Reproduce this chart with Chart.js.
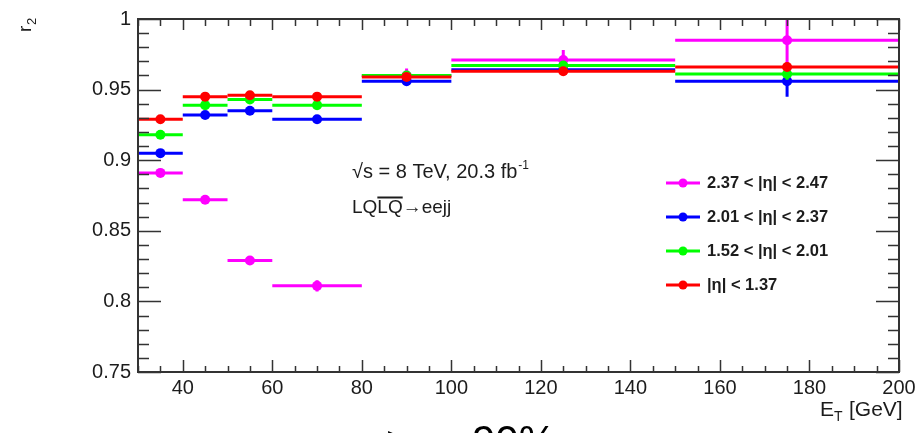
<!DOCTYPE html>
<html>
<head>
  <title>r2 vs ET</title>
  <script src="https://cdn.jsdelivr.net/npm/chart.js"></script>
  <style>
    body { margin: 0; background: #fff; }
  </style>
</head>
<body>
  <canvas id="r2Chart" width="921" height="433"></canvas>

  <script>
    // bins in E_T [GeV]
    const binCenter = [35, 45, 55, 70, 90, 125, 175];
    const binLow = [30, 40, 50, 60, 80, 100, 150];
    const binHigh = [40, 50, 60, 80, 100, 150, 200];

    // r2 per |eta| region, with errors
    const labels = ['2.37 < |η| < 2.47', '2.01 < |η| < 2.37', '1.52 < |η| < 2.01', '|η| < 1.37'];
    const colors = ['#ff00ff', '#0000ff', '#00ff00', '#ff0000'];
    const r2Eta1 = [0.891, 0.872, 0.829, 0.811, 0.960, 0.971, 0.985];
    const err1 = [0.002, 0.002, 0.002, 0.004, 0.005, 0.007, 0.022];
    const r2Eta2 = [0.905, 0.932, 0.935, 0.929, 0.956, 0.964, 0.956];
    const err2 = [0.002, 0.002, 0.002, 0.002, 0.002, 0.002, 0.011];
    const r2Eta3 = [0.918, 0.939, 0.943, 0.939, 0.960, 0.967, 0.961];
    const err3 = [0.002, 0.002, 0.002, 0.002, 0.002, 0.002, 0.004];
    const r2Eta4 = [0.929, 0.945, 0.946, 0.945, 0.959, 0.963, 0.966];
    const err4 = [0.002, 0.002, 0.002, 0.002, 0.002, 0.002, 0.003];

    const xTicks = [40, 60, 80, 100, 120, 140, 160, 180, 200];
    const yTicks = [0.75, 0.8, 0.85, 0.9, 0.95, 1];

    const series = [[r2Eta1, err1], [r2Eta2, err2], [r2Eta3, err3], [r2Eta4, err4]];

    const FONT = '"Liberation Sans", Arial, sans-serif';
    const INK = '#1c1c1c';

    const datasets = series.map((s, i) => ({
      label: labels[i],
      data: binCenter.map((x, j) => ({ x: x, y: s[0][j] })),
      yErr: s[1],
      backgroundColor: colors[i],
      borderColor: colors[i],
      pointRadius: 5,
      pointBorderWidth: 0,
      showLine: false,
      order: 3 - i   // red drawn on top
    }));

    const rootStyle = {
      id: 'rootStyle',
      beforeDatasetDraw(chart, args) {
        const ds = chart.data.datasets[args.index];
        const xs = chart.scales.x, ys = chart.scales.y, a = chart.chartArea;
        const ctx = chart.ctx;
        ctx.save();
        ctx.beginPath();
        ctx.rect(a.left, a.top, a.right - a.left, a.bottom - a.top);
        ctx.clip();
        ctx.strokeStyle = ds.borderColor;
        ctx.lineWidth = 3;
        ds.data.forEach((p, j) => {
          const py = ys.getPixelForValue(p.y);
          ctx.beginPath();
          ctx.moveTo(xs.getPixelForValue(binLow[j]), py);
          ctx.lineTo(xs.getPixelForValue(binHigh[j]), py);
          const px = xs.getPixelForValue(p.x);
          ctx.moveTo(px, ys.getPixelForValue(p.y + ds.yErr[j]));
          ctx.lineTo(px, ys.getPixelForValue(p.y - ds.yErr[j]));
          ctx.stroke();
        });
        ctx.restore();
      },
      afterDraw(chart) {
        const ctx = chart.ctx, a = chart.chartArea;
        const xs = chart.scales.x, ys = chart.scales.y;
        ctx.save();
        ctx.strokeStyle = '#333';
        ctx.lineWidth = 1.5;

        // ticks, ROOT style (inside the frame)
        ctx.beginPath();
        for (let v = 30; v <= 200; v += 5) {
          const px = Math.round(xs.getPixelForValue(v)) + 0.5;
          const major = v % 20 === 0;
          ctx.moveTo(px, a.bottom); ctx.lineTo(px, a.bottom - (major ? 12 : 6));
          ctx.moveTo(px, a.top); ctx.lineTo(px, a.top + (major ? 11 : 7));
        }
        for (let k = 75; k <= 100; k++) {
          const py = Math.round(ys.getPixelForValue(k / 100)) + 0.5;
          const major = k % 5 === 0;
          ctx.moveTo(a.left, py); ctx.lineTo(a.left + (major ? 23 : 11), py);
          ctx.moveTo(a.right, py); ctx.lineTo(a.right - (major ? 23 : 11), py);
        }
        ctx.stroke();

        ctx.lineWidth = 2;
        ctx.strokeRect(a.left, a.top, a.right - a.left, a.bottom - a.top);

        ctx.fillStyle = INK;
        // y title
        ctx.save();
        ctx.translate(31, 32);
        ctx.rotate(-Math.PI / 2);
        ctx.textBaseline = 'alphabetic';
        ctx.font = '19px ' + FONT;
        ctx.fillText('r', 0, 0);
        ctx.font = '13px ' + FONT;
        ctx.fillText('2', 7, 5);
        ctx.restore();

        // x title
        ctx.font = '21px ' + FONT;
        ctx.textBaseline = 'alphabetic';
        ctx.fillText('E', 820, 416);
        ctx.font = '14px ' + FONT;
        ctx.fillText('T', 834, 421);
        ctx.font = '21px ' + FONT;
        ctx.fillText('[GeV]', 849, 416);

        // annotation
        ctx.font = '20px ' + FONT;
        ctx.fillText('√s = 8 TeV, 20.3 fb', 352, 178);
        let w = ctx.measureText('√s = 8 TeV, 20.3 fb').width;
        ctx.font = '12px ' + FONT;
        ctx.fillText('-1', 352 + w + 1, 169);
        ctx.font = '19px ' + FONT;
        ctx.fillText('LQ', 352, 213);
        const w1 = ctx.measureText('LQ').width;
        ctx.fillText('LQ', 352 + w1, 213);
        ctx.fillText('→eejj', 352 + 2 * w1, 213);
        ctx.lineWidth = 2;
        ctx.strokeStyle = INK;
        ctx.beginPath();
        ctx.moveTo(352 + w1, 197.5); ctx.lineTo(352 + 2 * w1, 197.5);
        ctx.stroke();

        // legend
        chart.data.datasets.forEach((ds, i) => {
          const ly = 183 + i * 34;
          ctx.strokeStyle = ds.borderColor;
          ctx.fillStyle = ds.borderColor;
          ctx.lineWidth = 3;
          ctx.beginPath();
          ctx.moveTo(666, ly); ctx.lineTo(700, ly);
          ctx.stroke();
          ctx.beginPath();
          ctx.arc(683, ly, 4.5, 0, Math.PI * 2);
          ctx.fill();
          ctx.fillStyle = INK;
          ctx.font = 'bold 16.5px ' + FONT;
          ctx.textBaseline = 'middle';
          ctx.fillText(ds.label, 707, ly);
        });

        // cut-off slide text below the plot
        ctx.fillStyle = '#000';
        ctx.textBaseline = 'alphabetic';
        ctx.font = '42px ' + FONT;
        ctx.fillText('>', 386, 456);
        ctx.fillText('90%', 472, 455);
        ctx.restore();
      }
    };

    new Chart(document.getElementById('r2Chart').getContext('2d'), {
      type: 'scatter',
      data: { datasets: datasets },
      options: {
        responsive: false,
        animation: false,
        devicePixelRatio: 1,
        layout: { padding: { top: 16, right: 22, left: 0, bottom: 0 } },
        plugins: { legend: { display: false }, tooltip: { enabled: false } },
        scales: {
          x: {
            type: 'linear',
            min: 30,
            max: 200,
            grid: { display: false, drawTicks: false },
            border: { display: false },
            afterBuildTicks: s => { s.ticks = xTicks.map(v => ({ value: v })); },
            afterFit: s => { s.height = 61; },
            ticks: { color: INK, padding: 4, font: { family: FONT, size: 20 }, maxRotation: 0 }
          },
          y: {
            min: 0.75,
            max: 1,
            grid: { display: false, drawTicks: false },
            border: { display: false },
            afterBuildTicks: s => { s.ticks = yTicks.map(v => ({ value: v })); },
            afterFit: s => { s.width = 138; },
            ticks: { color: INK, padding: 7, font: { family: FONT, size: 20 }, callback: v => String(v) }
          }
        }
      },
      plugins: [rootStyle]
    });
  </script>
</body>
</html>
